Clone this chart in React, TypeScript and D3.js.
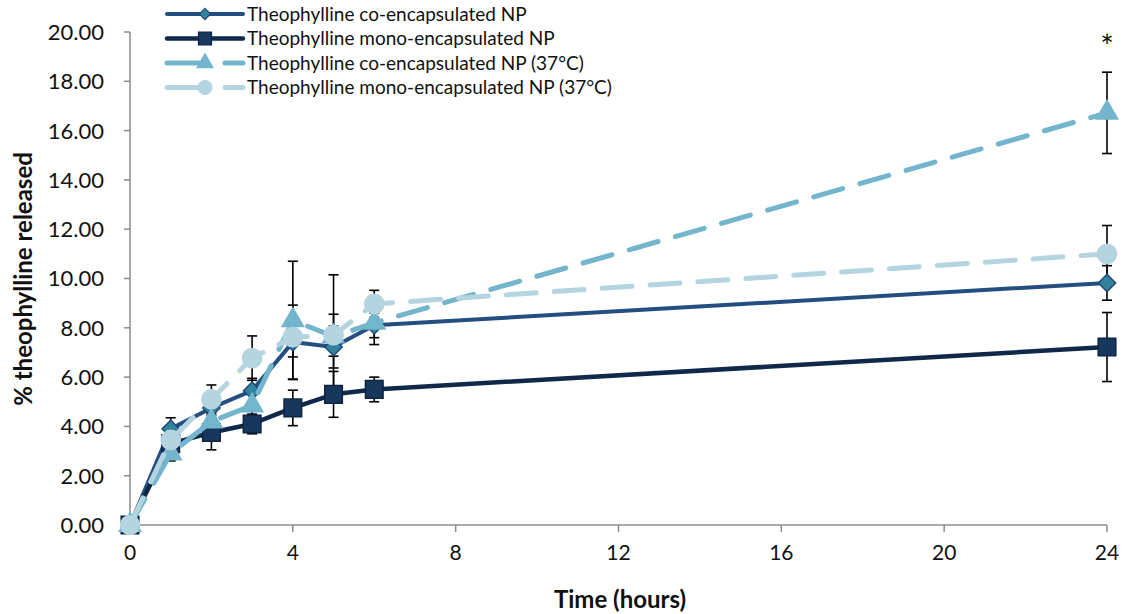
import React from "react";
import * as d3 from "d3";

const times = [0, 1, 2, 3, 4, 5, 6, 24];
const coEncap = [0, 3.9, 4.75, 5.45, 7.42, 7.22, 8.1, 9.82];
const coEncapErr = [0, 0.45, 0.4, 0.5, 1.5, 0.85, 0.5, 0.7];
const monoEncap = [0, 3.3, 3.75, 4.1, 4.75, 5.3, 5.5, 7.22];
const monoEncapErr = [0, 0.35, 0.7, 0.4, 0.72, 0.93, 0.5, 1.4];
const coEncap37 = [0, 2.9, 4.2, 4.85, 8.3, 7.65, 8.2, 16.72];
const coEncap37Err = [0, 0.3, 0.4, 0.6, 2.4, 2.5, 0.88, 1.65];
const monoEncap37 = [0, 3.45, 5.1, 6.77, 7.62, 7.7, 8.97, 11.0];
const monoEncap37Err = [0, 0.3, 0.58, 0.9, 0.8, 0.85, 0.55, 1.15];

const xTicks = [0, 4, 8, 12, 16, 20, 24];
const yTicks = [0, 2, 4, 6, 8, 10, 12, 14, 16, 18, 20];

const seriesNames = [
  "Theophylline co-encapsulated NP",
  "Theophylline mono-encapsulated NP",
  "Theophylline co-encapsulated NP (37°C)",
  "Theophylline mono-encapsulated NP (37°C)",
];

type Series = {
  name: string;
  values: number[];
  errors: number[];
  line: string;
  fill: string;
  stroke: string;
  symbol: d3.SymbolType;
  size: number;
  legendSize: number;
  width: number;
  dash: string | null;
};

const series: Series[] = [
  { name: seriesNames[0], values: coEncap, errors: coEncapErr, line: "#244d80", fill: "#31849b", stroke: "#1f497d", symbol: d3.symbolDiamond2, size: 190, legendSize: 80, width: 4, dash: null },
  { name: seriesNames[1], values: monoEncap, errors: monoEncapErr, line: "#10284a", fill: "#17375e", stroke: "#0f2440", symbol: d3.symbolSquare, size: 310, legendSize: 170, width: 4.5, dash: null },
  { name: seriesNames[2], values: coEncap37, errors: coEncap37Err, line: "#72b5cc", fill: "#72b5cc", stroke: "#72b5cc", symbol: d3.symbolTriangle, size: 200, legendSize: 110, width: 5, dash: "30 18" },
  { name: seriesNames[3], values: monoEncap37, errors: monoEncap37Err, line: "#b4d4e0", fill: "#b4d4e0", stroke: "#b4d4e0", symbol: d3.symbolCircle, size: 290, legendSize: 150, width: 5, dash: "30 18" },
];

const W = 1135;
const H = 614;
const x = d3.scaleLinear().domain([0, 24]).range([130, 1107]);
const y = d3.scaleLinear().domain([0, 20]).range([525, 32]);
const font = "Lato, 'Open Sans', sans-serif";
const axisColor = "#8c8c8c";

export default function App() {
  const line = d3
    .line<number>()
    .x((_, i) => x(times[i]))
    .y((v) => y(v));

  return (
    <svg
      width={W}
      height={H}
      style={{ position: "absolute", left: 0, top: 0, background: "#fff" }}
      fontFamily={font}
    >
      {/* axes */}
      <line x1={x(0)} x2={x(0)} y1={y(20)} y2={y(0)} stroke={axisColor} strokeWidth={1.5} />
      <line x1={x(0)} x2={x(24)} y1={y(0)} y2={y(0)} stroke={axisColor} strokeWidth={1.5} />
      {yTicks.map((t) => (
        <g key={"y" + t}>
          <line x1={x(0) - 6} x2={x(0)} y1={y(t)} y2={y(t)} stroke={axisColor} strokeWidth={1.5} />
          <text x={104} y={y(t)} dy="0.36em" textAnchor="end" fontSize={22} fill="#111">
            {d3.format(".2f")(t)}
          </text>
        </g>
      ))}
      {xTicks.map((t) => (
        <g key={"x" + t}>
          <line x1={x(t)} x2={x(t)} y1={y(0)} y2={y(0) + 7} stroke={axisColor} strokeWidth={1.5} />
          <text x={x(t)} y={560} textAnchor="middle" fontSize={21} fill="#111">
            {t}
          </text>
        </g>
      ))}
      <text x={620} y={608} textAnchor="middle" fontSize={24} fontWeight="bold" fill="#111">
        Time (hours)
      </text>
      <text
        transform={`translate(32,279) rotate(-90)`}
        textAnchor="middle"
        fontSize={24}
        fontWeight="bold"
        fill="#111"
      >
        % theophylline released
      </text>

      {/* error bars */}
      {series.map((s, si) =>
        s.values.map((v, i) =>
          s.errors[i] > 0 ? (
            <g key={`e${si}-${i}`} stroke="#000" strokeWidth={1.6}>
              <line x1={x(times[i])} x2={x(times[i])} y1={y(v + s.errors[i])} y2={y(v - s.errors[i])} />
              <line x1={x(times[i]) - 5} x2={x(times[i]) + 5} y1={y(v + s.errors[i])} y2={y(v + s.errors[i])} />
              <line x1={x(times[i]) - 5} x2={x(times[i]) + 5} y1={y(v - s.errors[i])} y2={y(v - s.errors[i])} />
            </g>
          ) : null
        )
      )}

      {/* series lines and markers */}
      {series.map((s, si) => (
        <g key={"s" + si}>
          <path
            d={line(s.values) || ""}
            fill="none"
            stroke={s.line}
            strokeWidth={s.width}
            strokeDasharray={s.dash || undefined}
            strokeLinecap="round"
            strokeLinejoin="round"
          />
          {s.values.map((v, i) => (
            <path
              key={i}
              d={d3.symbol().type(s.symbol).size(s.size)() || ""}
              transform={`translate(${x(times[i])},${y(v)})`}
              fill={s.fill}
              stroke={s.stroke}
              strokeWidth={1.5}
            />
          ))}
        </g>
      ))}

      <text x={x(24)} y={58} textAnchor="middle" fontSize={32} fill="#111">
        *
      </text>

      {/* legend */}
      {series.map((s, i) => {
        const ly = 14 + i * 24.5;
        return (
          <g key={"l" + i}>
            <line
              x1={167}
              x2={243}
              y1={ly}
              y2={ly}
              stroke={s.line}
              strokeWidth={s.width}
              strokeDasharray={s.dash ? "40 18" : undefined}
              strokeLinecap="round"
            />
            <path
              d={d3.symbol().type(s.symbol).size(s.legendSize)() || ""}
              transform={`translate(205,${ly})`}
              fill={s.fill}
              stroke={s.stroke}
              strokeWidth={1.2}
            />
            <text x={247} y={ly} dy="0.35em" fontSize={19} fill="#111">
              {s.name}
            </text>
          </g>
        );
      })}
    </svg>
  );
}
